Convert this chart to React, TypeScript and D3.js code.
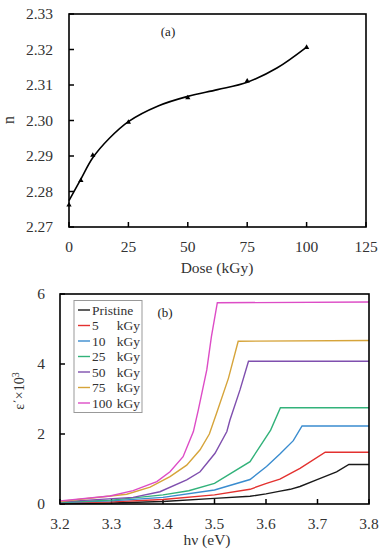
import React from "react";
import * as d3 from "d3";

// ---------- Chart (a) data ----------
const doseValues = [0, 5, 10, 25, 50, 75, 100];
const nValues = [2.2762, 2.2831, 2.2902, 2.2995, 2.3064, 2.3111, 2.3206];
const fitDose = [0, 5, 10, 17, 25, 37.5, 50, 62.5, 75, 87.5, 100];
const fitN = [2.2774, 2.2835, 2.2895, 2.295, 2.2997, 2.3041, 2.3068, 2.3087, 2.3108, 2.3148, 2.3207];
const aXTicks = [0, 25, 50, 75, 100, 125];
const aYTicks = [2.27, 2.28, 2.29, 2.3, 2.31, 2.32, 2.33];

// ---------- Chart (b) data ----------
const seriesNames = ["Pristine", "5", "10", "25", "50", "75", "100"];
const pristine: [number, number][] = [[3.2, 0.01], [3.3, 0.03], [3.4, 0.07], [3.5, 0.16], [3.569, 0.22], [3.6, 0.29], [3.625, 0.36], [3.647, 0.42], [3.666, 0.5], [3.698, 0.69], [3.737, 0.92], [3.761, 1.13], [3.8, 1.13]];
const kGy5: [number, number][] = [[3.2, 0.03], [3.3, 0.06], [3.4, 0.13], [3.5, 0.26], [3.569, 0.42], [3.601, 0.59], [3.627, 0.71], [3.666, 1.02], [3.715, 1.48], [3.8, 1.48]];
const kGy10: [number, number][] = [[3.2, 0.04], [3.3, 0.09], [3.4, 0.19], [3.5, 0.4], [3.569, 0.7], [3.601, 1.07], [3.627, 1.43], [3.653, 1.81], [3.67, 2.23], [3.8, 2.23]];
const kGy25: [number, number][] = [[3.2, 0.05], [3.3, 0.11], [3.4, 0.26], [3.45, 0.38], [3.5, 0.59], [3.569, 1.21], [3.609, 2.11], [3.628, 2.75], [3.8, 2.75]];
const kGy50: [number, number][] = [[3.2, 0.06], [3.342, 0.19], [3.394, 0.35], [3.446, 0.69], [3.472, 0.92], [3.501, 1.45], [3.524, 2.07], [3.53, 2.4], [3.5495, 3.26], [3.566, 4.08], [3.8, 4.08]];
const kGy75: [number, number][] = [[3.2, 0.07], [3.3295, 0.28], [3.375, 0.48], [3.4136, 0.78], [3.446, 1.11], [3.472, 1.55], [3.49, 2.0], [3.504, 2.59], [3.527, 3.59], [3.546, 4.65], [3.8, 4.67]];
const kGy100: [number, number][] = [[3.2, 0.09], [3.297, 0.23], [3.342, 0.38], [3.388, 0.64], [3.4136, 0.92], [3.439, 1.35], [3.459, 2.07], [3.4686, 2.69], [3.485, 3.83], [3.494, 4.78], [3.5055, 5.75], [3.8, 5.77]];
const seriesData = [pristine, kGy5, kGy10, kGy25, kGy50, kGy75, kGy100];
const seriesColors = ["#1a1a1a", "#e3312f", "#3a8ccf", "#32b27a", "#7f4fae", "#d6a43a", "#dd4cc6"];
const bXTicks = [3.2, 3.3, 3.4, 3.5, 3.6, 3.7, 3.8];
const bYTicks = [0, 2, 4, 6];

const FF = "Liberation Serif";

export default function App() {
  const ax = d3.scaleLinear().domain([0, 125]).range([69, 366]);
  const ay = d3.scaleLinear().domain([2.27, 2.33]).range([227, 14]);
  const fitLine = d3
    .line<number>()
    .x((_, i) => ax(fitDose[i]))
    .y((d) => ay(d))
    .curve(d3.curveCatmullRom.alpha(0.5));
  const tri = d3.symbol().type(d3.symbolTriangle).size(12);

  const bx = d3.scaleLinear().domain([3.2, 3.8]).range([60, 369]);
  const by = d3.scaleLinear().domain([0, 6]).range([504, 294]);
  const bLine = d3
    .line<[number, number]>()
    .x((d) => bx(d[0]))
    .y((d) => by(d[1]));

  const tickLen = 5;

  return (
    <svg width={382} height={550} fontFamily={FF} style={{ position: "absolute", left: 0, top: 0, background: "#fff", fontFamily: FF }}>
      <rect x={0} y={0} width={382} height={550} fill="#fff" />
      {/* ---------- Chart (a) ---------- */}
      <g>
        {aYTicks.map((t) => (
          <g key={"ay" + t}>
            <line x1={ax(0)} x2={ax(0) + tickLen} y1={ay(t)} y2={ay(t)} stroke="#000" strokeWidth={1.5} />
            <text x={53} y={ay(t) + 5} textAnchor="end" fontSize={15.5} fill="#333" fontFamily={FF}>
              {t.toFixed(2)}
            </text>
          </g>
        ))}
        {aXTicks.map((t) => (
          <g key={"ax" + t}>
            <line x1={ax(t)} x2={ax(t)} y1={ay(2.27)} y2={ay(2.27) - tickLen} stroke="#000" strokeWidth={1.5} />
            <text x={ax(t)} y={252} textAnchor="middle" fontSize={15.5} fill="#333" fontFamily={FF}>
              {t}
            </text>
          </g>
        ))}
        <path d={fitLine(fitN) || ""} fill="none" stroke="#000" strokeWidth={1.6} />
        {doseValues.map((d, i) => (
          <path key={"pt" + i} d={tri() || ""} transform={`translate(${ax(d)},${ay(nValues[i])})`} fill="#000" />
        ))}
        <rect x={69} y={14} width={297} height={213} fill="none" stroke="#000" strokeWidth={1.6} />
        <text x={168} y={36} textAnchor="middle" fontSize={13} fill="#222" fontFamily={FF}>(a)</text>
        <text x={217} y={273} textAnchor="middle" fontSize={15.5} fill="#333" fontFamily={FF}>Dose (kGy)</text>
        <text transform={`translate(14,120) rotate(-90)`} textAnchor="middle" fontSize={16} fill="#333" fontFamily={FF}>n</text>
      </g>

      {/* ---------- Chart (b) ---------- */}
      <g>
        {bYTicks.map((t) => (
          <g key={"by" + t}>
            <line x1={bx(3.2)} x2={bx(3.2) + tickLen} y1={by(t)} y2={by(t)} stroke="#000" strokeWidth={1.5} />
            <text x={45} y={by(t) + 5} textAnchor="end" fontSize={15.5} fill="#333" fontFamily={FF}>
              {t}
            </text>
          </g>
        ))}
        {bXTicks.map((t) => (
          <g key={"bx" + t}>
            <line x1={bx(t)} x2={bx(t)} y1={by(0)} y2={by(0) - tickLen} stroke="#000" strokeWidth={1.5} />
            <text x={bx(t)} y={529} textAnchor="middle" fontSize={15.5} fill="#333" fontFamily={FF}>
              {t.toFixed(1)}
            </text>
          </g>
        ))}
        {seriesData.map((s, i) => (
          <path key={"s" + i} d={bLine(s) || ""} fill="none" stroke={seriesColors[i]} strokeWidth={1.4} />
        ))}
        <rect x={60} y={294} width={309} height={210} fill="none" stroke="#000" strokeWidth={1.6} />
        <text x={165} y={317} textAnchor="middle" fontSize={13} fill="#222" fontFamily={FF}>(b)</text>
        <rect x={74} y={300.5} width={68} height={112} fill="#fff" stroke="#999" strokeWidth={1} />
        {seriesNames.map((name, i) => {
          const yy = 310 + i * 15.5;
          return (
            <g key={"lg" + i}>
              <line x1={78} x2={90} y1={yy} y2={yy} stroke={seriesColors[i]} strokeWidth={1.4} />
              <text x={92} y={yy + 4.5} fontSize={13.5} fill="#333" fontFamily={FF}>
                {name}
              </text>
              {i > 0 && (
                <text x={140} y={yy + 4.5} fontSize={13.5} fill="#333" textAnchor="end" fontFamily={FF}>
                  kGy
                </text>
              )}
            </g>
          );
        })}
        <text x={207} y={545} textAnchor="middle" fontSize={15.5} fill="#333" fontFamily={FF}>hν (eV)</text>
        <text transform={`translate(24,391) rotate(-90)`} textAnchor="middle" fontSize={14} fill="#333" fontFamily={FF}>
          ε΄×10<tspan fontSize={10} dy={-5}>3</tspan>
        </text>
      </g>
    </svg>
  );
}
